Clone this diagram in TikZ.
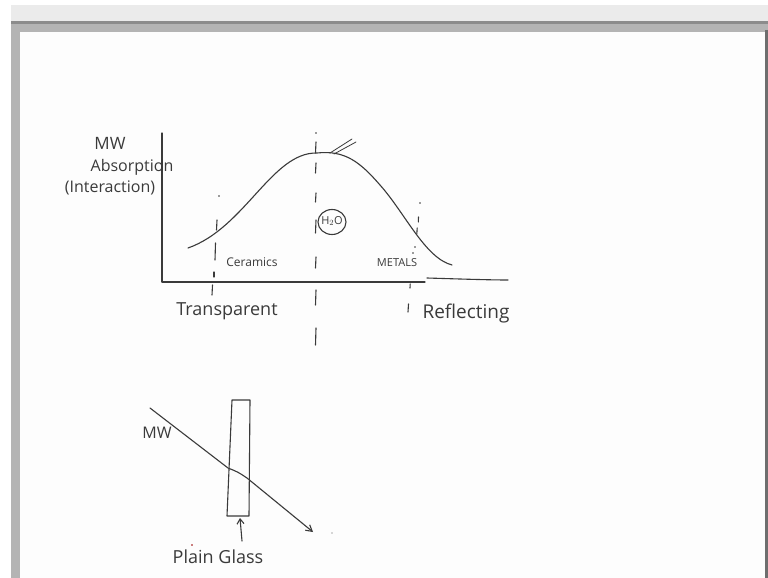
\documentclass[tikz,border=0pt]{standalone}
\usepackage{fontspec}
\setmainfont{Open Sans}
\usetikzlibrary{arrows.meta}
\definecolor{inkc}{HTML}{3A3A3A}
\definecolor{topgray}{HTML}{EBEBEB}
\definecolor{bargray}{HTML}{8C8C8C}
\definecolor{framegray}{HTML}{B4B4B4}
\definecolor{pagewhite}{HTML}{FDFDFD}
\definecolor{edgegray}{HTML}{6E6E6E}
\begin{document}
\begin{tikzpicture}[x=1pt,y=-1pt,
  ink/.style={draw=inkc, line width=1.1pt, line cap=round, line join=round},
  fine/.style={draw=inkc, line width=0.8pt, line cap=round},
  lbl/.style={text=inkc, inner sep=0pt, font=#1},
  inkdot/.style={fill=inkc}]
\useasboundingbox (0,0) rectangle (768,578);
% screen frame
\fill[white] (0,0) rectangle (768,578);
\fill[topgray] (11,5) rectangle (768,21);
\fill[bargray] (11,21) rectangle (768,24);
\fill[framegray] (11,24) rectangle (768,32);
\fill[framegray] (11,32) rectangle (20,578);
\fill[pagewhite] (20,32) rectangle (765,578);
\fill[edgegray] (765,30) rectangle (767.5,578);

% axes
\draw[ink] (162,133) -- (162,282) -- (425,282);
\draw[ink] (427,278) .. controls (460,279) and (490,280) .. (508,280);

% bell curve
\draw[ink] (188,248) .. controls (245,228) and (272,152) .. (317,153)
  .. controls (345,150) and (360,162) .. (380,185)
  .. controls (405,213) and (425,258) .. (452,265);
% tick at peak
\draw[fine] (330,153) -- (352,139);
\draw[fine] (334,154) -- (356,142);

% central dashed line
\fill[inkdot] (316,133) circle (0.9);
\foreach \a/\b in {142/153, 163/173, 193/202, 220/233, 257/268, 290/305, 328/345}
  \draw[ink] (316,\a) -- (315.5,\b);

% left dashed line
\fill[inkdot] (219,196) circle (0.9);
\draw[ink] (217,220) -- (216.5,230);
\draw[ink] (215.5,243) -- (215,260);
\draw[ink] (214,272) -- (214,277);
\draw[ink] (212.5,285) -- (212,295);

% right dashed line
\fill[inkdot] (420,203) circle (0.9);
\draw[ink] (418.5,217) -- (418.3,222);
\draw[ink] (417.2,228) -- (416.8,234);
\fill[inkdot] (415,247) circle (0.9);
\fill[inkdot] (413,253) circle (0.9);
\draw[ink] (410.2,284) -- (410,288);
\draw[ink] (408.5,304) -- (408,312);

% H2O
\draw[ink] (332,222) ellipse [x radius=14, y radius=12.5];
\node[lbl={\fontsize{11}{12}\selectfont}] (h2o) at (332,221) {H$_2$O};

% labels
\node[lbl={\fontsize{17}{19}\selectfont}] (mw) at (110,143) {MW};
\node[lbl={\fontsize{16}{18}\selectfont}] (absorb) at (132,167) {Absorption};
\node[lbl={\fontsize{16}{18}\selectfont}] (inter) at (110,188) {(Interaction)};
\node[lbl={\fontsize{12}{14}\selectfont}] (ceram) at (252,262) {Ceramics};
\node[lbl={\fontsize{11}{13}\selectfont}] (metals) at (397,263) {METALS};
\node[lbl={\fontsize{18}{20}\selectfont}] (transp) at (227,311) {Transparent};
\node[lbl={\fontsize{19}{21}\selectfont}] (reflect) at (466,314) {Reflecting};

% glass and microwave ray
\draw[ink] (232,400) -- (250,400) -- (249,516) -- (227,516) -- cycle;
\node[lbl={\fontsize{16}{18}\selectfont}] (mw2) at (157,433) {MW};
\coordinate (r0) at (150,408);
\coordinate (r1) at (228,468);
\coordinate (r2) at (247,478);
\coordinate (r3) at (313,532);
\draw[ink, -{Straight Barb[length=6pt,width=7pt]}] (r0) -- (r1) .. controls (238,472) .. (r2) -- (r3);
\fill[inkc!40] (332,533) circle (0.8);

\node[lbl={\fontsize{18}{20}\selectfont}] (pg) at (218,557) {Plain Glass};
\coordinate (gb) at (240,518);
\coordinate (arrs) at (242,541);
\draw[ink, -{Straight Barb[length=5pt,width=7pt]}] (arrs) -- (gb);
\fill[red!60!black] (192,545) circle (0.8);
\end{tikzpicture}
\end{document}
